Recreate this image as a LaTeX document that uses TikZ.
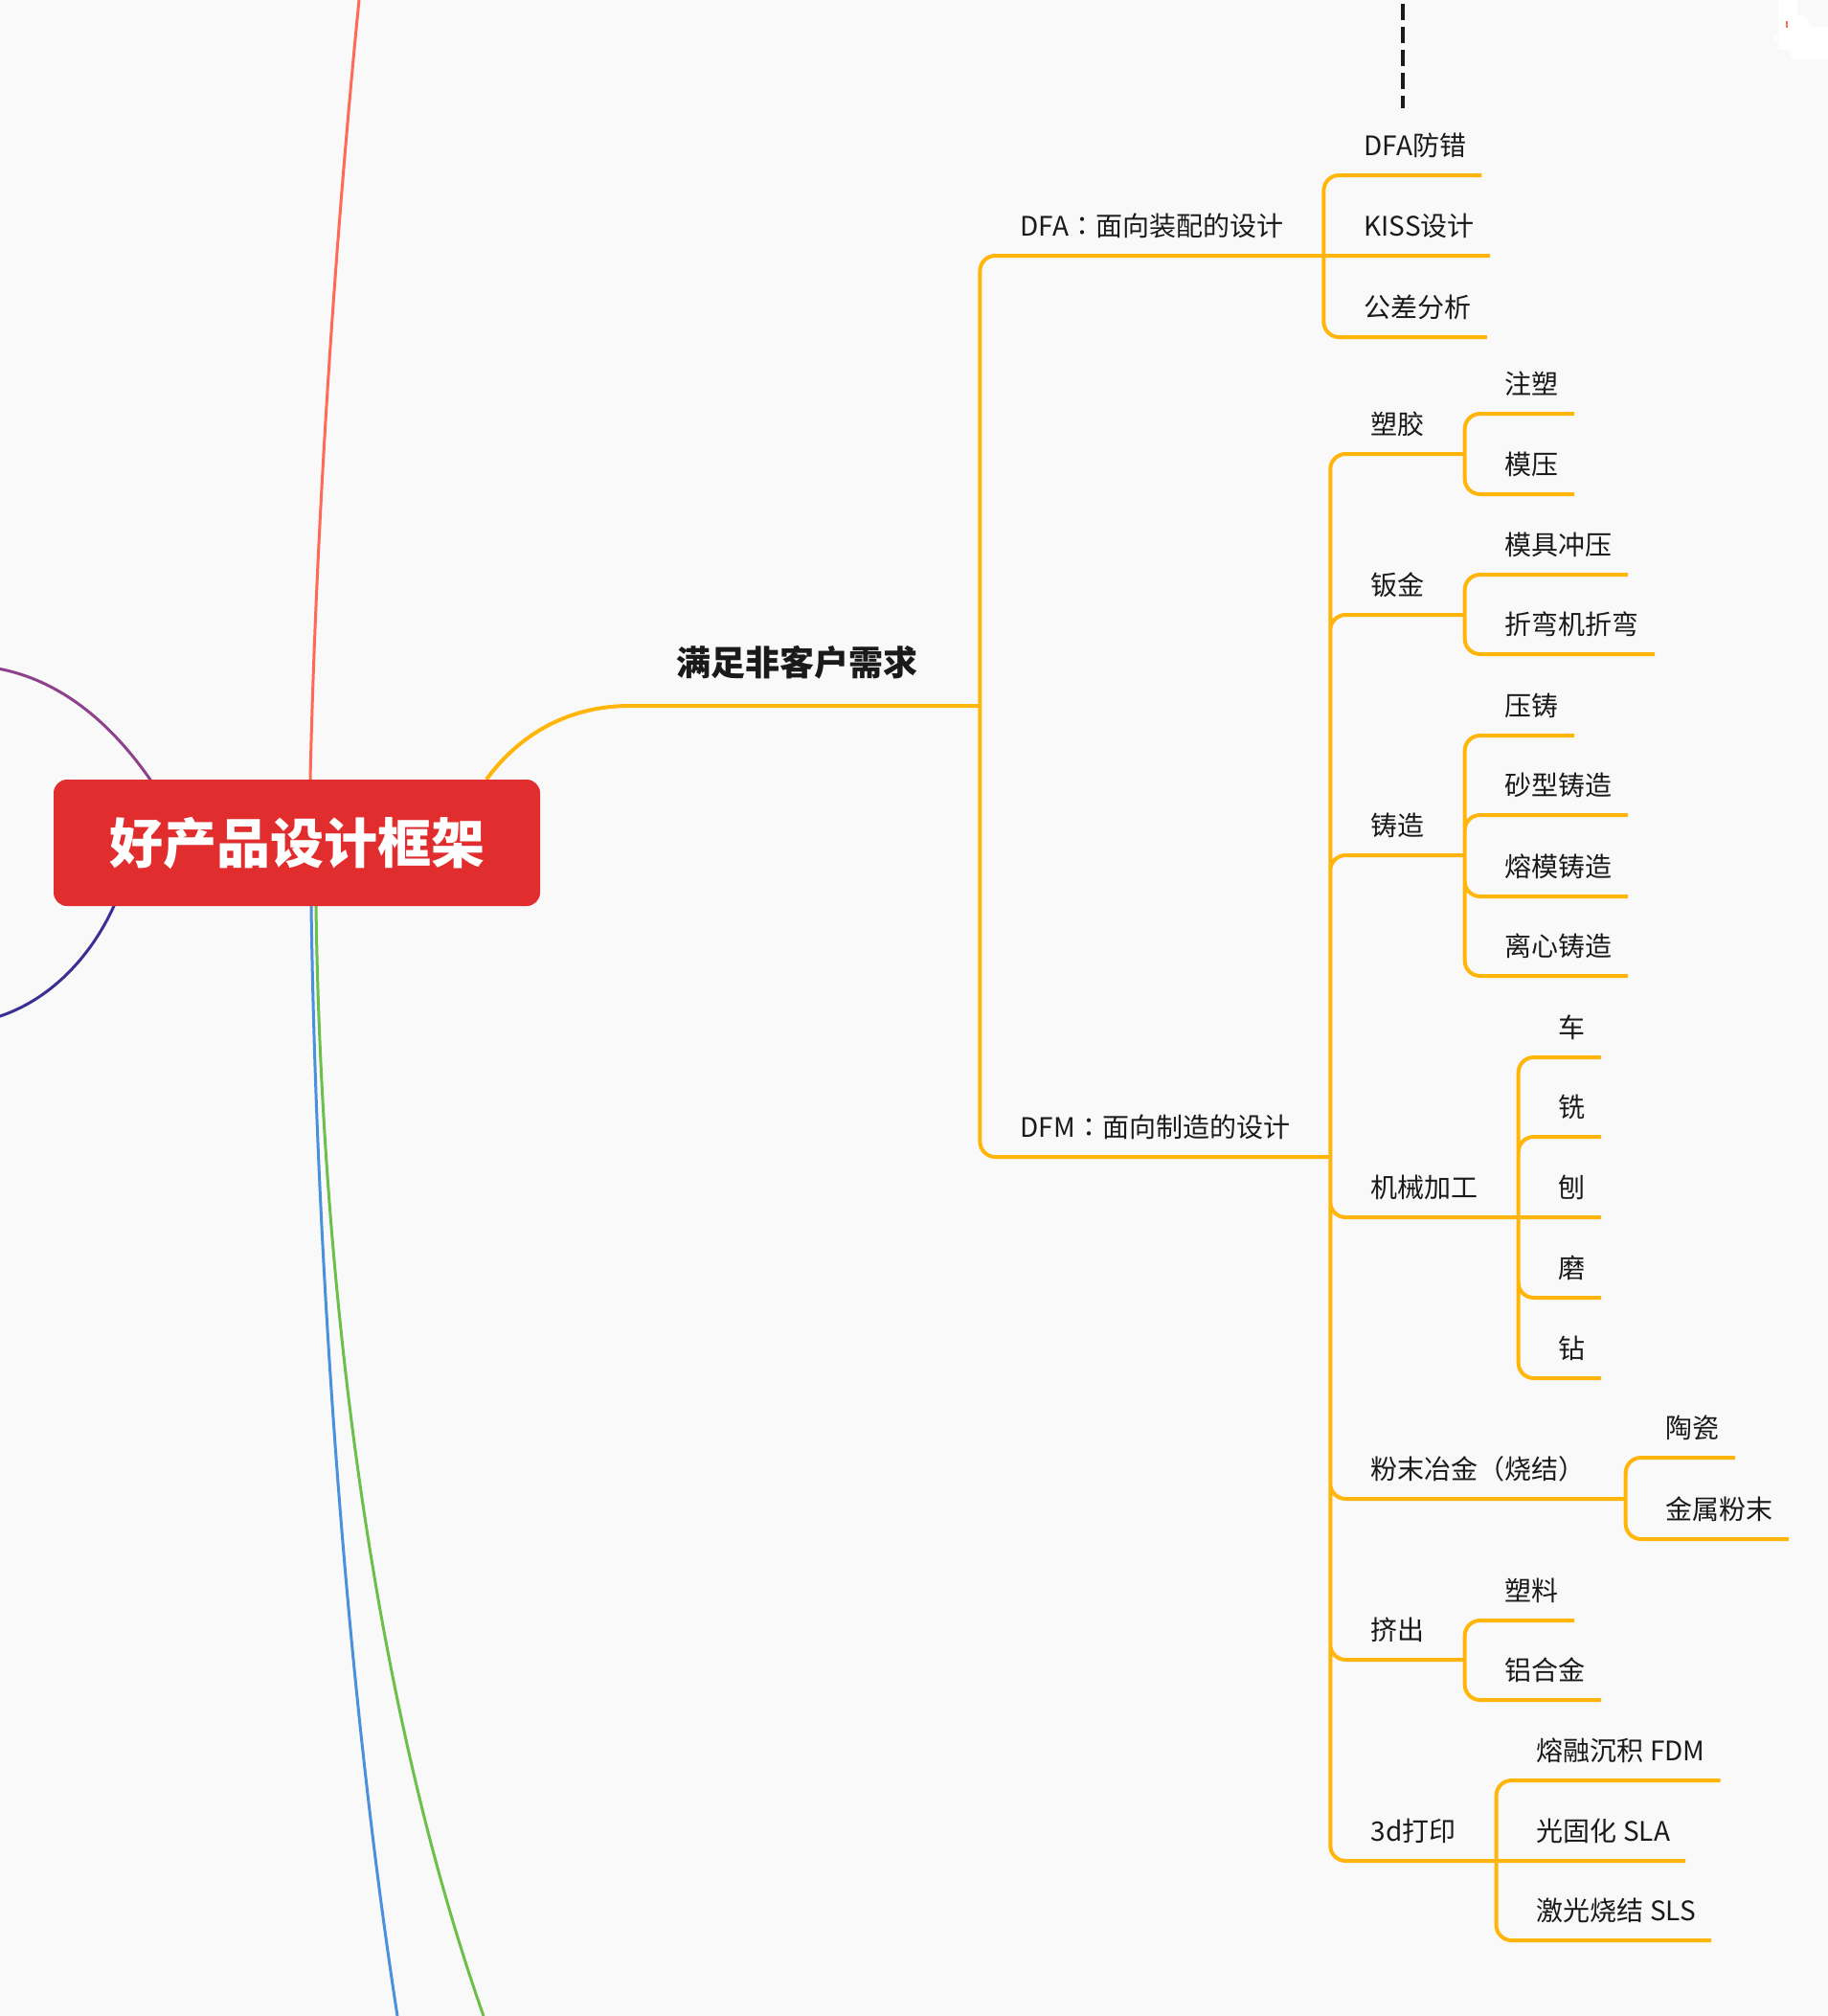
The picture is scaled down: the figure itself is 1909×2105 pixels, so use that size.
\documentclass[tikz,border=0pt]{standalone}
\usepackage{fontspec}
\setmainfont{Noto Sans CJK SC}
\newfontfamily\tcpunct{Noto Sans CJK TC}
\usepackage{tikz}
\definecolor{PaperGray}{RGB}{249,249,249}
\definecolor{RootRed}{RGB}{226,45,47}
\definecolor{BranchYellow}{RGB}{255,181,10}
\definecolor{CoralLine}{RGB}{255,105,88}
\definecolor{PlumLine}{RGB}{142,66,140}
\definecolor{IndigoLine}{RGB}{58,48,148}
\definecolor{SkyLine}{RGB}{74,144,220}
\definecolor{GrassLine}{RGB}{108,192,74}
\definecolor{InkBlack}{RGB}{26,26,26}
\pgfdeclarelayer{paper}
\pgfdeclarelayer{links}
\pgfsetlayers{paper,links,main}

\begin{document}
\begin{tikzpicture}[
    x=1pt, y=-1pt,
    every node/.style={font=\fontsize{28}{34}\selectfont, text=InkBlack},
    topic/.style={anchor=south west, inner xsep=42pt, inner ysep=20pt, text depth=0pt},
    leaf/.style={anchor=south west, xshift=26pt, inner xsep=16pt, inner ysep=20pt, text depth=0pt},
    branch/.style={draw=BranchYellow, line width=4pt, rounded corners=16pt},
    mainline/.style={line width=3pt}
  ]
    \useasboundingbox (0,0) rectangle (1909,2105);
    \begin{pgfonlayer}{paper}
      \fill[PaperGray] (0,0) rectangle (1909,2105);
    \end{pgfonlayer}

    \node[fill=RootRed, rounded corners=14pt, minimum width=508pt, minimum height=132pt, text=white, font=\fontsize{56}{60}\selectfont\bfseries] (root) at (310,880) {好产品设计框架};
    \node[anchor=south west, inner xsep=48pt, inner ysep=31pt, text depth=0pt, text width=269pt, align=left, font=\fontsize{36}{40}\selectfont\bfseries] (need) at (658,737) {满足非客户需求};

    \coordinate (coral-end) at (375,0);
    \coordinate (plum-end) at (-30,695);
    \coordinate (indigo-end) at (-30,1068);
    \coordinate (sky-end) at (415,2105);
    \coordinate (grass-end) at (505,2105);
    \begin{pgfonlayer}{links}
      \draw[mainline, CoralLine] ([xshift=14pt]root.north) .. controls (330,550) and (350,250) .. (coral-end);
      \draw[mainline, PlumLine] ([xshift=-92pt,yshift=-50pt]root.center) .. controls (178,830) and (100,700) .. (plum-end);
      \draw[mainline, IndigoLine] ([xshift=-172pt]root.center) .. controls (128,960) and (66,1055) .. (indigo-end);
      \draw[mainline, SkyLine] ([xshift=15pt]root.south) .. controls (330,1300) and (360,1750) .. (sky-end);
      \draw[mainline, GrassLine] ([xshift=20pt]root.south) .. controls (335,1300) and (380,1750) .. (grass-end);
      \draw[BranchYellow, line width=4pt] ([xshift=198pt]root.north) .. controls (540,770) and (590,737) .. (need.south west) -- (need.south east);
    \end{pgfonlayer}

    \node[topic] (dfa) at (need.south east |- 0,267) {DFA{\tcpunct ：}面向装配的设计};
    \node[topic] (dfm) at (need.south east |- 0,1208) {DFM{\tcpunct ：}面向制造的设计};
    \draw[branch] (need.south east) |- (dfa.south east) (need.south east) |- (dfm.south east);

    \node[leaf] (fangcuo) at (dfa.south east |- 0,183) {DFA防错};
    \node[leaf] (kiss) at (dfa.south east) {KISS设计};
    \node[leaf] (gongcha) at (dfa.south east |- 0,352) {公差分析};
    \draw[branch] (dfa.south east) |- (fangcuo.south east) (dfa.south east) -- (kiss.south east) (dfa.south east) |- (gongcha.south east);

    \coordinate (relay) at (1465,-20);
    \draw[InkBlack, line width=4pt, dash pattern=on 17pt off 7pt, shorten >=6pt] (relay) -- (relay |- fangcuo.north);

    \node[topic] (sujiao) at (dfm.south east |- 0,474) {塑胶};
    \node[topic] (banjin) at (dfm.south east |- 0,642) {钣金};
    \node[topic] (zhuzao) at (dfm.south east |- 0,893) {铸造};
    \node[topic] (jixie) at (dfm.south east |- 0,1271) {机械加工};
    \node[topic] (fenmo) at (dfm.south east |- 0,1565) {粉末冶金{\tcpunct （}烧结{\tcpunct ）}};
    \node[topic] (jichu) at (dfm.south east |- 0,1733) {挤出};
    \node[topic] (dayin) at (dfm.south east |- 0,1943) {3d打印};
    \draw[branch] (dfm.south east) |- (sujiao.south east) (dfm.south east) |- (banjin.south east)
      (dfm.south east) |- (zhuzao.south east) (dfm.south east) |- (jixie.south east)
      (dfm.south east) |- (fenmo.south east) (dfm.south east) |- (jichu.south east)
      (dfm.south east) |- (dayin.south east);

    \node[leaf] (zhusu) at (sujiao.south east |- 0,432) {注塑};
    \node[leaf] (moya) at (sujiao.south east |- 0,516) {模压};
    \draw[branch] (sujiao.south east) |- (zhusu.south east) (sujiao.south east) |- (moya.south east);

    \node[leaf] (chongya) at (banjin.south east |- 0,600) {模具冲压};
    \node[leaf] (zhewan) at (banjin.south east |- 0,683) {折弯机折弯};
    \draw[branch] (banjin.south east) |- (chongya.south east) (banjin.south east) |- (zhewan.south east);

    \node[leaf] (yazhu) at (zhuzao.south east |- 0,768) {压铸};
    \node[leaf] (shaxing) at (zhuzao.south east |- 0,851) {砂型铸造};
    \node[leaf] (rongmo) at (zhuzao.south east |- 0,936) {熔模铸造};
    \node[leaf] (lixin) at (zhuzao.south east |- 0,1019) {离心铸造};
    \draw[branch] (zhuzao.south east) |- (yazhu.south east) (zhuzao.south east) |- (shaxing.south east)
      (zhuzao.south east) |- (rongmo.south east) (zhuzao.south east) |- (lixin.south east);

    \node[leaf] (che) at (jixie.south east |- 0,1104) {车};
    \node[leaf] (xi) at (jixie.south east |- 0,1187) {铣};
    \node[leaf] (bao) at (jixie.south east) {刨};
    \node[leaf] (mo) at (jixie.south east |- 0,1355) {磨};
    \node[leaf] (zuan) at (jixie.south east |- 0,1439) {钻};
    \draw[branch] (jixie.south east) |- (che.south east) (jixie.south east) |- (xi.south east)
      (jixie.south east) -- (bao.south east)
      (jixie.south east) |- (mo.south east) (jixie.south east) |- (zuan.south east);

    \node[leaf] (taoci) at (fenmo.south east |- 0,1522) {陶瓷};
    \node[leaf] (jinshu) at (fenmo.south east |- 0,1607) {金属粉末};
    \draw[branch] (fenmo.south east) |- (taoci.south east) (fenmo.south east) |- (jinshu.south east);

    \node[leaf] (suliao) at (jichu.south east |- 0,1692) {塑料};
    \node[leaf] (lvhejin) at (jichu.south east |- 0,1775) {铝合金};
    \draw[branch] (jichu.south east) |- (suliao.south east) (jichu.south east) |- (lvhejin.south east);

    \node[leaf] (fdm) at (dayin.south east |- 0,1859) {熔融沉积 FDM};
    \node[leaf] (sla) at (dayin.south east) {光固化 SLA};
    \node[leaf] (sls) at (dayin.south east |- 0,2026) {激光烧结 SLS};
    \draw[branch] (dayin.south east) |- (fdm.south east) (dayin.south east) -- (sla.south east)
      (dayin.south east) |- (sls.south east);

    \fill[white] (1857,0) -- (1877,0) -- (1877,16) -- (1883,16) -- (1893,28) -- (1909,28) -- (1909,62)
      -- (1870,62) -- (1870,53) -- (1857,52) -- (1857,43) -- (1853,43) -- (1853,37) -- (1857,37) -- cycle;
    \fill[CoralLine] (1865,22) rectangle (1867,29);
  \end{tikzpicture}
\end{document}
